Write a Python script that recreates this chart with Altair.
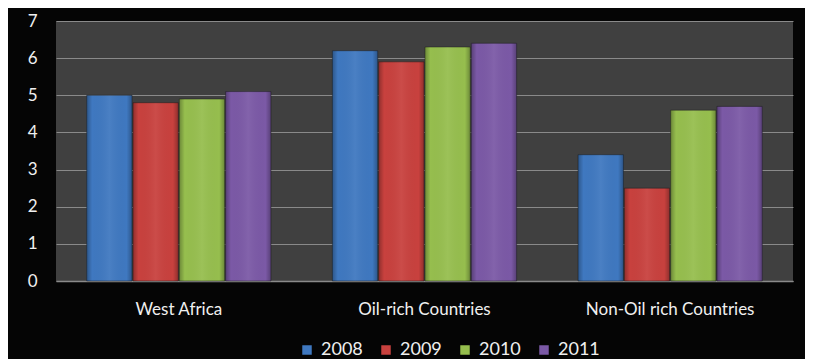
import altair as alt
import pandas as pd

regions = ["West Africa", "Oil-rich Countries", "Non-Oil rich Countries"]
years = ["2008", "2009", "2010", "2011"]
v2008 = [5.0, 6.2, 3.4]
v2009 = [4.8, 5.9, 2.5]
v2010 = [4.9, 6.3, 4.6]
v2011 = [5.1, 6.4, 4.7]
colors = ["#3f78c0", "#c8413e", "#96be4e", "#7b59a6"]

rows = []
for y, vals in zip(years, [v2008, v2009, v2010, v2011]):
    for r, v in zip(regions, vals):
        rows.append({"Region": r, "Year": y, "Value": v})
df = pd.DataFrame(rows)

FONT = "Lato"

x = alt.X("Region:N", sort=regions, title=None,
          scale=alt.Scale(paddingInner=0.25, paddingOuter=0.125),
          axis=alt.Axis(labelAngle=0, labelColor="#f0f0f0", labelFontSize=17,
                        labelFont=FONT, ticks=False, labelPadding=20,
                        domain=True, domainColor="#8a8a8a", domainWidth=1.5,
                        grid=False))
xo = alt.XOffset("Year:N", sort=years, scale=alt.Scale(paddingInner=0.02))
y = alt.Y("Value:Q", title=None,
          scale=alt.Scale(domain=[0, 7], nice=False),
          axis=alt.Axis(values=[0, 1, 2, 3, 4, 5, 6, 7], labelColor="#f0f0f0",
                        labelFontSize=17, labelFont=FONT, ticks=False,
                        labelPadding=19, domain=False, grid=True,
                        gridColor="#8a8a8a", gridWidth=1))

bars = alt.Chart(df).mark_bar(stroke="#1a1a1a", strokeWidth=0.8, strokeOpacity=0.6).encode(
    x=x, xOffset=xo, y=y,
    color=alt.Color("Year:N", sort=years,
                    scale=alt.Scale(domain=years, range=colors),
                    legend=alt.Legend(title=None, orient="none", direction="horizontal",
                                      legendX=242, legendY=320, columns=4,
                                      symbolType="square", symbolSize=90,
                                      symbolStrokeWidth=0,
                                      labelColor="#f0f0f0", labelFontSize=18,
                                      labelFont=FONT, labelOffset=5,
                                      columnPadding=14)),
)

shade = alt.Chart(df).mark_bar(
    color=alt.Gradient(
        gradient="linear", x1=0, x2=1, y1=0, y2=0,
        stops=[alt.GradientStop(color="rgba(0,0,0,0.28)", offset=0),
               alt.GradientStop(color="rgba(0,0,0,0.0)", offset=0.12),
               alt.GradientStop(color="rgba(255,255,255,0.06)", offset=0.5),
               alt.GradientStop(color="rgba(0,0,0,0.0)", offset=0.88),
               alt.GradientStop(color="rgba(0,0,0,0.28)", offset=1)])
).encode(x=x, xOffset=xo, y=y)

chart = alt.layer(bars, shade).properties(
    width=737, height=260,
    padding={"left": 19, "top": 4, "right": 12, "bottom": 0},
    background="#050505",
).configure_view(fill="#404040", stroke=None)

chart.save("out.html", embed_options={"renderer": "svg", "actions": False})
